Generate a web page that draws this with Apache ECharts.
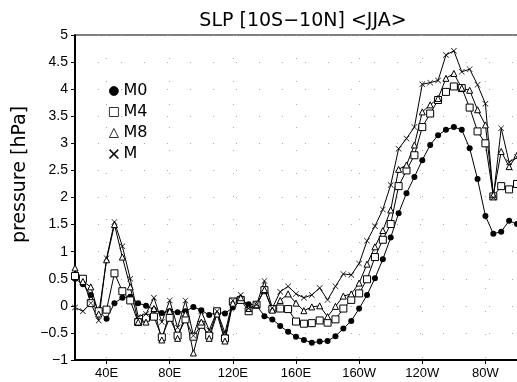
<!DOCTYPE html>
<html>
<head>
<meta charset="utf-8">
<script src="https://cdn.jsdelivr.net/npm/echarts@6/dist/echarts.min.js"></script>
<style>
  html, body { margin: 0; padding: 0; background: #fff; }
  #chart { width: 517px; height: 382px; }
</style>
</head>
<body>
<div id="chart"></div>
<script>
// longitude in degrees east (20E .. 300E = 60W)
var lons = [20, 25, 30, 35, 40, 45, 50, 55, 60, 65, 70, 75, 80, 85, 90, 95, 100,
  105, 110, 115, 120, 125, 130, 135, 140, 145, 150, 155, 160, 165, 170, 175, 180,
  185, 190, 195, 200, 205, 210, 215, 220, 225, 230, 235, 240, 245, 250, 255, 260,
  265, 270, 275, 280, 285, 290, 295, 300];

var m0 = [0.5, 0.4, 0.2, -0.1, -0.24, 0.05, 0.15, 0.17, 0.05, 0.0, -0.07, -0.13, -0.1,
  -0.12, -0.1, -0.02, -0.08, -0.17, -0.12, -0.14, -0.03, 0.1, 0.03, 0.01, -0.19, -0.25,
  -0.37, -0.48, -0.57, -0.63, -0.68, -0.66, -0.65, -0.56, -0.42, -0.28, -0.05, 0.2,
  0.51, 0.86, 1.26, 1.71, 2.08, 2.38, 2.69, 2.97, 3.15, 3.25, 3.3, 3.25, 2.91, 2.34,
  1.66, 1.33, 1.37, 1.57, 1.51];

var m4 = [0.55, 0.5, 0.05, -0.1, -0.07, 0.6, 0.27, 0.1, -0.3, -0.22, -0.2, -0.58, -0.22,
  -0.55, -0.25, -0.57, -0.35, -0.55, -0.1, -0.6, 0.08, 0.11, -0.1, 0.02, 0.29, -0.06,
  -0.05, -0.06, -0.29, -0.33, -0.32, -0.27, -0.31, -0.25, -0.05, 0.11, 0.23, 0.49,
  0.9, 1.22, 1.51, 2.21, 2.5, 2.78, 3.3, 3.55, 3.8, 3.95, 4.05, 4.02, 3.66, 3.22,
  3.0, 2.02, 2.21, 2.15, 2.25];

var m8 = [0.7, 0.45, 0.35, -0.15, 0.85, 1.5, 0.9, 0.35, -0.3, -0.3, -0.05, -0.63, -0.1,
  -0.6, -0.15, -0.87, -0.3, -0.6, -0.15, -0.65, 0.05, 0.15, -0.05, 0.02, 0.3, -0.08,
  0.1, 0.22, 0.05, -0.09, -0.02, 0.0, -0.2, -0.01, 0.18, 0.22, 0.42, 0.77, 1.09,
  1.39, 1.77, 2.52, 2.6, 2.97, 3.58, 3.71, 3.83, 4.2, 4.29, 4.02, 3.98, 3.62, 3.34,
  2.05, 2.85, 2.57, 2.78];

var mAll = [-0.03, -0.1, 0.05, -0.27, 0.88, 1.55, 1.1, 0.5, -0.2, -0.15, 0.15, -0.3, 0.1,
  -0.4, 0.1, -0.55, -0.1, -0.45, -0.1, -0.5, 0.1, 0.2, -0.05, 0.02, 0.46, -0.04, 0.26,
  0.36, 0.22, 0.15, 0.2, 0.33, 0.11, 0.36, 0.59, 0.57, 0.78, 1.2, 1.47, 1.78, 2.23,
  2.9, 3.09, 3.3, 4.09, 4.12, 4.16, 4.63, 4.71, 4.32, 4.37, 4.08, 3.73, 2.0, 3.28,
  2.65, 2.75];

var xTicks = [40, 80, 120, 160, 200, 240, 280];

// thin "x" marker
var crossPath =
  "path://M0,0.7L0.7,0L5,4.3L9.3,0L10,0.7L5.7,5L10,9.3L9.3,10L5,5.7L0.7,10L0,9.3L4.3,5Z";
var font = "Liberation Sans, Arial, sans-serif";
var wideFont = "DejaVu Sans, Liberation Sans, sans-serif";

function pairs(vals) {
  return lons.map(function (lon, i) {
    return [lon, vals[i]];
  });
}

function lonLabel(v) {
  if (v <= 180) return v + "E";
  return 360 - v + "W";
}

function makeSeries(name, vals, symbol, size, filled) {
  return {
    name: name,
    type: "line",
    data: pairs(vals),
    symbol: symbol,
    symbolSize: size,
    showAllSymbol: true,
    lineStyle: { color: "#000", width: 1 },
    itemStyle: {
      color: filled ? "#000" : "#fff",
      borderColor: "#000",
      borderWidth: filled ? 0 : 1,
    },
    emphasis: { disabled: true },
  };
}

var chart = echarts.init(document.getElementById("chart"));
var option = {
  animation: false,
  backgroundColor: "#fff",
  title: {
    text: "SLP [10S\u221210N] <JJA>",
    left: 298,
    textAlign: "center",
    top: 7,
    textStyle: { fontFamily: wideFont, fontSize: 19, fontWeight: "normal", color: "#000" },
  },
  legend: {
    orient: "vertical",
    left: 104,
    top: 78,
    itemWidth: 9,
    itemHeight: 9,
    itemGap: 5,
    itemTextGap: 19,
    itemStyle: { borderWidth: 0.8 },
    textStyle: { fontFamily: wideFont, fontSize: 16, color: "#000", lineHeight: 16 },
    data: [
      { name: "M0", icon: "circle" },
      { name: "M4", icon: "rect" },
      { name: "M8", icon: "triangle" },
      { name: "M", icon: crossPath },
    ],
  },
  grid: { left: 75, top: 35, width: 444, height: 325 },
  xAxis: {
    type: "value",
    min: 20,
    max: 300,
    axisLine: { onZero: false, lineStyle: { color: "#000", width: 2 } },
    axisTick: { customValues: xTicks, length: 4, lineStyle: { color: "#000" } },
    axisLabel: {
      customValues: xTicks,
      formatter: lonLabel,
      fontFamily: font,
      fontSize: 13,
      color: "#000",
      margin: 7,
    },
    splitLine: {
      show: true,
      lineStyle: { color: "#aaa", width: 1, type: [1, 22] },
    },
  },
  yAxis: {
    type: "value",
    min: -1,
    max: 5,
    interval: 0.5,
    name: "pressure [hPa]",
    nameLocation: "middle",
    nameGap: 38,
    nameTextStyle: {
      fontFamily: wideFont,
      fontSize: 19,
      color: "#000",
      padding: [0, 0, 0, 46],
    },
    axisLine: { show: true, lineStyle: { color: "#000", width: 2 } },
    axisTick: { show: true, length: 4, lineStyle: { color: "#000" } },
    axisLabel: {
      fontFamily: font,
      fontSize: 14,
      color: "#000",
      margin: 7,
      formatter: function (v) {
        return String(v).replace("-", "\u2212");
      },
    },
    splitLine: {
      show: true,
      lineStyle: { color: "#aaa", width: 1, type: [1, 22] },
    },
  },
  graphic: [
    {
      type: "line",
      shape: { x1: 75, y1: 35, x2: 517, y2: 35 },
      style: { stroke: "#000", lineWidth: 1 },
    },
  ],
  series: [
    makeSeries("M0", m0, "circle", 6, true),
    makeSeries("M4", m4, "rect", 7, false),
    makeSeries("M8", m8, "triangle", 6, false),
    makeSeries("M", mAll, crossPath, 6, true),
  ],
};
option && chart.setOption(option);
</script>
</body>
</html>
